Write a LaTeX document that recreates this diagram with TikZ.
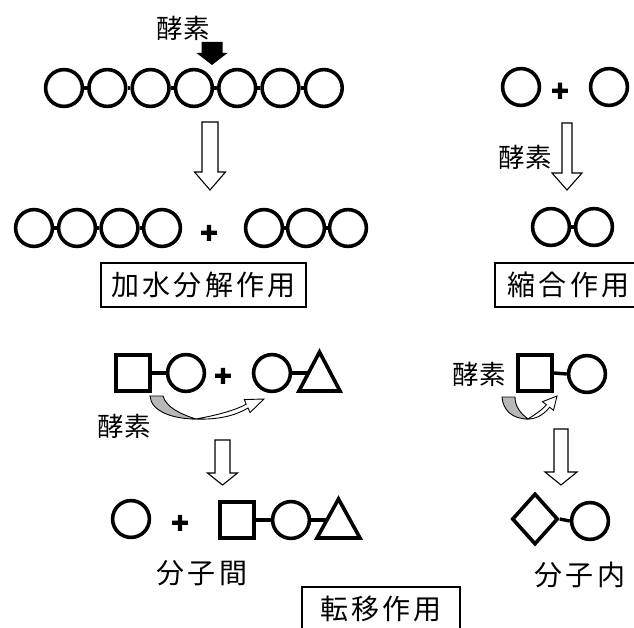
\documentclass[tikz,border=0pt]{standalone}
\usepackage{fontspec}
\newfontfamily\jp{Noto Sans CJK JP}
\newfontfamily\jpsp[LetterSpace=11]{Noto Sans CJK JP}
\newfontfamily\plusfont[FakeBold=3]{Liberation Sans Bold}
\usetikzlibrary{shapes.geometric}
\newcommand{\hollowdown}[6]{% x, ytop, ytip, shaft width, head width, head length
  \draw[blockarrow] ({#1-#4/2},#2) -- ({#1+#4/2},#2) -- ({#1+#4/2},{#3-#6}) -- ({#1+#5/2},{#3-#6})
    -- (#1,#3) -- ({#1-#5/2},{#3-#6}) -- ({#1-#4/2},{#3-#6}) -- cycle;}
\begin{document}
\begin{tikzpicture}[x=1pt,y=-1pt,
 ring/.style={circle,draw,line width=3.6pt,minimum size=36.8pt,inner sep=0pt},
 sqbox/.style={rectangle,draw,line width=3.6pt,minimum width=34.5pt,minimum height=36pt,inner sep=0pt},
 dia/.style={diamond,draw,line width=3.6pt,minimum width=46pt,minimum height=51pt,inner sep=0pt},
 bond/.style={line width=3.4pt},
 tri/.style={line width=3.6pt,line join=miter},
 plus/.style={font=\plusfont\fontsize{30}{30}\selectfont,inner sep=0pt},
 enz/.style={font=\jp\fontsize{26.5}{26.5}\selectfont,inner sep=0pt},
 lbl/.style={font=\jpsp\fontsize{28}{28}\selectfont,inner sep=0pt},
 labbox/.style={draw,line width=1.1pt,font=\jpsp\fontsize{28}{28}\selectfont,inner sep=0pt,minimum height=44pt},
 blockarrow/.style={draw,line width=1.1pt,fill=white,line join=miter},
 curvearrow/.style={draw,line width=0.9pt,fill=white,line join=miter},
 curvegray/.style={draw,line width=0.9pt,fill=black!28},
]
\useasboundingbox (0,0) rectangle (634,628);

% ---------- hydrolysis (top left) ----------
\node[enz] (e1) at (183,28) {酵素};
\fill (201.5,42) -- (222.5,42) -- (222.5,53) -- (227.5,53) -- (212,65) -- (196.5,53) -- (201.5,53) -- cycle;
\foreach \i in {1,...,7} \node[ring] (t\i) at ({64+43.3*(\i-1)},88) {};
\foreach \i/\j in {1/2,2/3,3/4,4/5,5/6,6/7} \draw[bond] (t\i.east) -- (t\j.west);
\hollowdown{210}{122}{190}{16}{31}{18}
\foreach \i/\x in {1/34,2/77,3/119.5,4/162} \node[ring] (b\i) at (\x,228) {};
\foreach \i/\j in {1/2,2/3,3/4} \draw[bond] (b\i.east) -- (b\j.west);
\node[plus] (p1) at (209,234) {+};
\foreach \i/\x in {1/264,2/306,3/348} \node[ring] (c\i) at (\x,228) {};
\foreach \i/\j in {1/2,2/3} \draw[bond] (c\i.east) -- (c\j.west);
\node[labbox,minimum width=205pt] (hyd) at (203.5,285) {加水分解作用};

% ---------- condensation (top right) ----------
\node[ring] (r1) at (521,87) {};
\node[plus] (p2) at (560,92) {+};
\node[ring] (r2) at (609,87) {};
\hollowdown{567}{123}{190}{10}{30}{17}
\node[enz] (e2) at (525,157) {酵素};
\node[ring] (d1) at (551,227) {};
\node[ring] (d2) at (594,227) {};
\draw[bond] (d1.east) -- (d2.west);
\node[labbox,minimum width=147pt] (cond) at (568.5,285) {縮合作用};

% ---------- transfer, intermolecular ----------
\node[sqbox] (s1) at (133,373) {};
\node[ring] (m1) at (186,373) {};
\draw[bond] (s1.east) -- (m1.west);
\node[plus] (p3) at (223,377) {+};
\node[ring] (m2) at (272,373) {};
\draw[tri] (299,391) -- (340,391) -- (319.5,352) -- cycle;
\coordinate (tr1) at (307.5,373);
\draw[bond] (m2.east) -- (tr1);
% curved enzyme arrow
\draw[curvegray] (150,396) .. controls (151,411) and (172,419) .. (196,419)
   .. controls (180,414) and (166,407) .. (163,396) -- cycle;
\draw[curvearrow] (196,419) .. controls (222,420) and (238,414) .. (248,408)
   -- (250,412.5) -- (264,399) -- (244.3,399.6) -- (246.2,404.2)
   .. controls (236,410) and (218,415) .. (196,419) -- cycle;
\node[enz] (e3) at (124,426) {酵素};
\hollowdown{222.5}{440}{485}{15}{30}{12}
\node[ring] (n1) at (131,519) {};
\node[plus] (p4) at (180,524) {+};
\node[sqbox] (s2) at (237,520) {};
\node[ring] (n2) at (291,520) {};
\draw[bond] (s2.east) -- (n2.west);
\draw[tri] (317,538) -- (360,538) -- (338.5,499) -- cycle;
\coordinate (tr2) at (326.5,520);
\draw[bond] (n2.east) -- (tr2);
\node[lbl] (inter) at (202,573) {分子間};
\node[labbox,minimum width=158pt] (trans) at (381,609) {転移作用};

% ---------- transfer, intramolecular ----------
\node[enz] (e4) at (479,374) {酵素};
\node[sqbox] (s3) at (535,373) {};
\node[ring] (q1) at (587,374) {};
\draw[bond] (s3.east) -- (q1.west);
\draw[curvegray] (502,397) .. controls (503,410) and (512,419) .. (528,419)
   .. controls (520,413) and (515,406) .. (515,397) -- cycle;
\draw[curvearrow] (528,419) .. controls (538,419) and (545,413) .. (549.6,407.2)
   -- (553.5,410.3) -- (557,396) -- (542.5,401.7) -- (546.4,404.8)
   .. controls (541,411) and (534,415) .. (528,419) -- cycle;
\hollowdown{561}{429}{485}{14}{32}{13}
\node[dia] (g1) at (535,519) {};
\node[ring] (q2) at (590,521) {};
\draw[bond] (g1.east) -- (q2.west);
\node[lbl] (intra) at (580,575) {分子内};
\end{tikzpicture}
\end{document}
